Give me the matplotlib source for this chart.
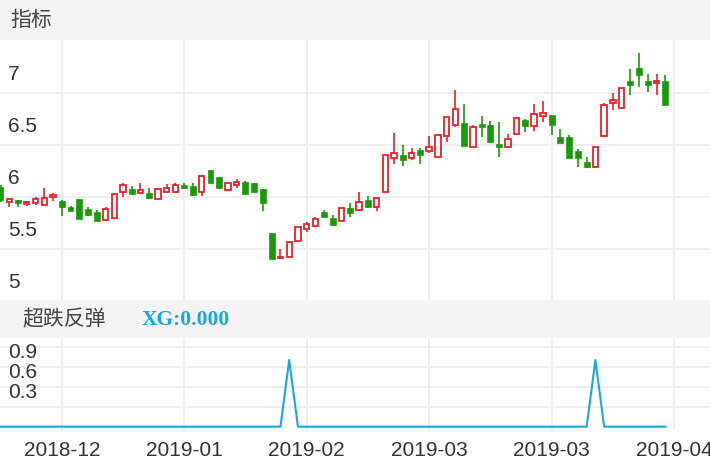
import matplotlib
matplotlib.use("Agg")
import matplotlib.pyplot as plt
import numpy as np

opens = [6.096,5.95,5.968,5.93,5.936,5.92,6.0,5.96,5.90,5.975,5.88,5.855,5.78,5.80,6.05,6.07,6.04,6.04,5.98,6.05,6.05,6.11,6.10,6.05,6.257,6.186,6.06,6.11,6.145,6.13,6.07,
         5.654,5.41,5.424,5.577,5.69,5.72,5.856,5.80,5.77,5.888,5.872,5.968,5.904,6.05,6.37,6.40,6.37,6.45,6.443,6.385,6.584,6.69,6.706,6.482,6.70,6.69,6.507,6.481,6.603,6.738,6.68,6.776,6.786,6.577,6.577,6.44,6.337,6.289,6.584,6.898,6.85,7.116,7.235,7.116,7.09,7.116]
closes = [5.968,5.974,5.943,5.95,5.975,5.985,6.02,5.90,5.86,5.79,5.82,5.77,5.88,6.03,6.11,6.03,6.06,5.985,6.07,6.08,6.11,6.08,6.02,6.20,6.135,6.08,6.135,6.145,6.03,6.05,5.94,
          5.40,5.42,5.567,5.705,5.737,5.79,5.808,5.728,5.888,5.84,5.952,5.904,5.99,6.40,6.417,6.353,6.417,6.401,6.475,6.594,6.77,6.84,6.488,6.667,6.674,6.53,6.475,6.552,6.754,6.68,6.796,6.808,6.69,6.52,6.37,6.37,6.283,6.475,6.882,6.93,7.042,7.074,7.17,7.074,7.116,6.882]
highs = [6.11,5.984,5.97,5.955,6.0,6.08,6.04,5.97,5.91,5.98,5.90,5.87,5.90,6.03,6.13,6.10,6.135,6.08,6.07,6.12,6.13,6.13,6.135,6.21,6.26,6.19,6.145,6.17,6.155,6.135,6.07,
         5.654,5.50,5.57,5.71,5.76,5.808,5.87,5.82,5.888,5.936,6.05,6.007,5.99,6.40,6.61,6.497,6.465,6.465,6.584,6.594,6.77,7.026,6.892,6.69,6.776,6.73,6.722,6.60,6.754,6.744,6.892,6.92,6.786,6.648,6.594,6.456,6.38,6.475,6.90,6.994,7.042,7.225,7.379,7.18,7.18,7.17]
lows = [5.95,5.904,5.90,5.91,5.92,5.91,5.96,5.81,5.85,5.79,5.81,5.77,5.77,5.80,6.0,6.03,6.03,5.975,5.98,6.05,6.04,6.07,6.007,6.007,6.13,6.07,6.06,6.08,6.03,6.04,5.866,
        5.40,5.40,5.42,5.57,5.664,5.705,5.80,5.72,5.77,5.808,5.866,5.888,5.866,6.05,6.315,6.30,6.353,6.315,6.417,6.385,6.53,6.667,6.488,6.47,6.578,6.513,6.38,6.481,6.603,6.626,6.635,6.722,6.594,6.52,6.37,6.29,6.273,6.289,6.577,6.834,6.85,6.98,7.058,7.01,6.98,6.882]
xg = [0]*77
xg[33] = 1.0
xg[68] = 1.0
tick_pos = [7, 21, 35, 49, 63, 77]
tick_labels = ["2018-12", "2019-01", "2019-02", "2019-03", "2019-03", "2019-04"]

RED = "#e8202a"; GREEN = "#1a9a0a"; BLUE = "#1aa7e0"; GRID = "#eeeeee"; TXT = "#333333"
NUMFONT = "Liberation Sans"
W, H = 710, 472
fig = plt.figure(figsize=(7.1, 4.72), dpi=100)
plt.rcParams['font.family'] = ['Noto Sans CJK SC', 'DejaVu Sans']

def ax_rect(top, bottom):
    return [0, 1 - bottom / H, 1, (bottom - top) / H]

for (t, b) in [(0, 40), (300, 338)]:
    bg = fig.add_axes(ax_rect(t, b)); bg.set_facecolor("#f4f4f4"); bg.set_xticks([]); bg.set_yticks([])
    for s in bg.spines.values(): s.set_visible(False)
fig.text(10/W, 1-20/H, "指标", fontsize=15, color="#444444", va="center")
fig.text(22/W, 1-319/H, "超跌反弹", fontsize=15, color="#444444", va="center")
fig.text(142/W, 1-320/H, "XG:0.000", fontsize=15.5, color=BLUE, va="center", fontweight="bold", family="Liberation Serif")

xlim = (-0.06, 81.1)
n = len(opens)
x = np.arange(n)
lx = 8/W*(xlim[1]-xlim[0]) + xlim[0]

ax = fig.add_axes(ax_rect(40, 300))
ax.set_xlim(*xlim); ax.set_ylim(5.007, 7.507)
for v in [5.5, 6, 6.5, 7]:
    ax.axhline(v, color=GRID, lw=1.5, zorder=0)
for p in tick_pos:
    ax.axvline(p, color=GRID, lw=1.5, zorder=0)
for i in range(n):
    o, c, h, l = opens[i], closes[i], highs[i], lows[i]
    up = c >= o
    col = RED if up else GREEN
    ax.vlines(i, l, h, color=col, lw=1.2, zorder=2)
    bot, ht = min(o, c), max(abs(c - o), 0.006)
    if up:
        ax.bar(i, ht, bottom=bot, width=0.62, facecolor="white", edgecolor=col, linewidth=1.3, zorder=3)
    else:
        ax.bar(i, ht, bottom=bot, width=0.68, facecolor=col, edgecolor=col, linewidth=0.5, zorder=3)
ax.set_xticks([]); ax.set_yticks([])
for s in ax.spines.values(): s.set_visible(False)
for v, lab in [(7, "7"), (6.5, "6.5"), (6, "6"), (5.5, "5.5"), (5.0, "5")]:
    ax.text(lx, v + 0.18, lab, fontsize=15, color=TXT, va="center", family=NUMFONT)

ax2 = fig.add_axes(ax_rect(338, 430))
ax2.set_xlim(*xlim); ax2.set_ylim(-0.05, 1.33)
for v in [0.3, 0.6, 0.9, 1.2]:
    ax2.axhline(v, color=GRID, lw=1.5, zorder=0)
for p in tick_pos:
    ax2.axvline(p, color=GRID, lw=1.5, zorder=0)
ax2.plot(x, xg, color=BLUE, lw=1.5, zorder=3)
ax2.set_xticks([]); ax2.set_yticks([])
for s in ax2.spines.values(): s.set_visible(False)
for v, lab in [(0.9, "0.9"), (0.6, "0.6"), (0.3, "0.3")]:
    ax2.text(lx, v + 0.22, lab, fontsize=15, color=TXT, va="center", family=NUMFONT)

for p, lab in zip(tick_pos, tick_labels):
    px = (p - xlim[0]) / (xlim[1] - xlim[0])
    fig.text(px, 1 - 450/H, lab, fontsize=15, color=TXT, ha="center", va="center", family=NUMFONT)

fig.savefig("out.png", dpi=100)
